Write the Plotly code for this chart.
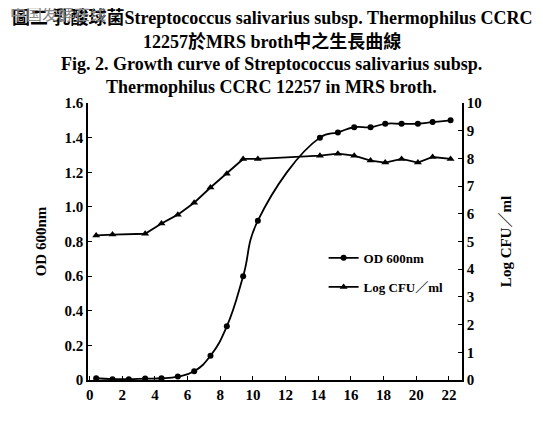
import plotly.graph_objects as go

# hours of incubation
od_hours = [0.4, 1.4, 2.4, 3.4, 4.4, 5.4, 6.4, 7.4, 8.4, 9.4, 10.3,
            14.1, 15.2, 16.2, 17.2, 18.1, 19.1, 20.1, 21.0, 22.1]
od_600 = [0.01, 0.005, 0.005, 0.008, 0.01, 0.02, 0.05, 0.14, 0.31, 0.60, 0.92,
          1.40, 1.43, 1.46, 1.46, 1.48, 1.48, 1.48, 1.49, 1.50]

cfu_hours = [0.4, 1.4, 3.4, 4.4, 5.4, 6.4, 7.4, 8.4, 9.4, 10.3,
             14.1, 15.2, 16.2, 17.2, 18.1, 19.1, 20.1, 21.0, 22.1]
log_cfu = [5.22, 5.25, 5.28, 5.65, 5.97, 6.4, 6.95, 7.45, 7.98, 7.98,
           8.1, 8.17, 8.1, 7.92, 7.85, 7.98, 7.85, 8.05, 7.98]

title_lines = [
    "圖二 乳酸球菌Streptococcus salivarius subsp. Thermophilus CCRC",
    "12257於MRS broth中之生長曲線",
    "Fig. 2. Growth curve of Streptococcus salivarius subsp.",
    "Thermophilus CCRC 12257 in MRS broth.",
]

serif = "Liberation Serif, Noto Sans CJK TC, serif"
bold = dict(family=serif, size=15, color="black", weight="bold")

fig = go.Figure()
fig.add_trace(go.Scatter(x=od_hours, y=od_600, name="OD 600nm", showlegend=True,
                         mode="lines+markers",
                         line=dict(color="black", width=1.8, shape="spline", smoothing=1.3),
                         marker=dict(symbol="circle", size=6, color="black"),
                         legend="legend"))
fig.add_trace(go.Scatter(x=cfu_hours, y=log_cfu, name="Log CFU／ml", yaxis="y2", showlegend=True,
                         mode="lines+markers", line=dict(color="black", width=1.8),
                         marker=dict(symbol="triangle-up", size=7, color="black"),
                         legend="legend2"))

# page body adds an 8 px offset, so the figure is 535x419 and shifted accordingly
for i, t in enumerate(title_lines):
    fig.add_annotation(text=t, xref="paper", yref="paper", x=0.5, y=1,
                       xanchor="center", yanchor="middle", showarrow=False,
                       xshift=-3.5,
                       yshift=[86, 62, 39, 16][i],
                       font=dict(family=serif, size=18, color="black", weight="bold"))

# faint site watermark in the top-left corner
fig.add_annotation(text="中国发酵在线", xref="paper", yref="paper", x=0, y=1,
                   xanchor="left", yanchor="middle", showarrow=False,
                   xshift=-80, yshift=90,
                   font=dict(family="Noto Sans CJK SC", size=16, color="#8a8a8a"))

axis_common = dict(showline=True, linecolor="black", linewidth=1.5, ticks="inside",
                   ticklen=4, tickcolor="black", showgrid=False, zeroline=False,
                   automargin=False, tickfont=bold)

fig.update_layout(
    width=535, height=419,
    margin=dict(l=80, r=81, t=95, b=47),
    plot_bgcolor="white", paper_bgcolor="white",
    xaxis=dict(range=[-0.1, 22.8], tickvals=list(range(0, 23, 2)), **axis_common),
    yaxis=dict(range=[0, 1.6], tickvals=[0, 0.2, 0.4, 0.6, 0.8, 1.0, 1.2, 1.4, 1.6],
               ticktext=["0", "0.2", "0.4", "0.6", "0.8", "1.0", "1.2", "1.4", "1.6"],
               title=dict(text="OD 600nm", font=bold, standoff=14),
               **axis_common),
    yaxis2=dict(range=[0, 10], dtick=1, overlaying="y", side="right",
                title=dict(text="Log CFU／ml", font=bold, standoff=20),
                **axis_common),
    legend=dict(x=0.63, y=0.441, xanchor="left", yanchor="middle", bgcolor="rgba(0,0,0,0)",
                font=dict(family=serif, size=13, color="black", weight="bold")),
    legend2=dict(x=0.63, y=0.336, xanchor="left", yanchor="middle", bgcolor="rgba(0,0,0,0)",
                 font=dict(family=serif, size=13, color="black", weight="bold")),
)

fig.write_html("out.html")
